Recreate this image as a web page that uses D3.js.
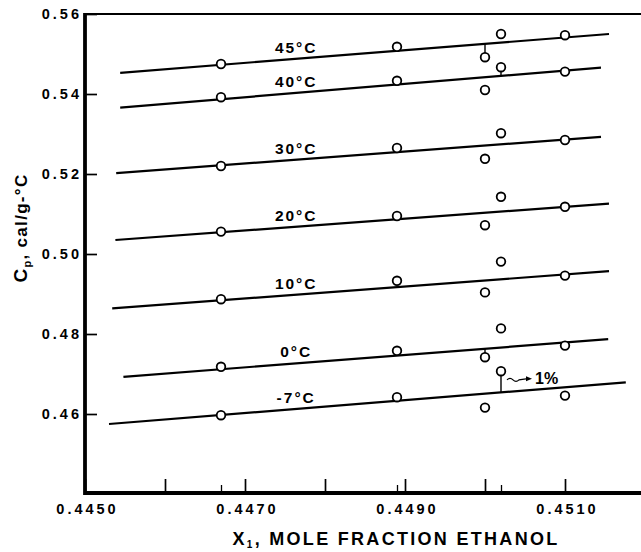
<!DOCTYPE html>
<html><head><meta charset="utf-8">
<script src="https://cdn.jsdelivr.net/npm/d3@7"></script>
<style>body{margin:0;background:#fff;} svg{display:block;} text{font-family:"Liberation Sans",Arial,Helvetica,sans-serif;font-weight:bold;fill:#000;}</style>
</head><body>
<svg id="c" width="641" height="552"></svg>
<script>
// ---- data ----
const xCols = [0.4467, 0.4489, 0.4500, 0.4502, 0.4510];
const temps = ["45°C", "40°C", "30°C", "20°C", "10°C", "0°C", "-7°C"];
const cp45 = [0.5475, 0.5518, 0.5492, 0.5550, 0.5547];
const cp40 = [0.5392, 0.5433, 0.5410, 0.5467, 0.5456];
const cp30 = [0.5220, 0.5265, 0.5238, 0.5302, 0.5285];
const cp20 = [0.5056, 0.5095, 0.5072, 0.5143, 0.5118];
const cp10 = [0.4887, 0.4933, 0.4904, 0.4981, 0.4946];
const cp0  = [0.4718, 0.4758, 0.4742, 0.4814, 0.4771];
const cpm7 = [0.4597, 0.4642, 0.4616, 0.4707, 0.4646];
const seriesValues = [cp45, cp40, cp30, cp20, cp10, cp0, cpm7];
// fitted straight lines: start (x,y) and end (x,y)
const fitStartX = [0.44544, 0.44544, 0.44539, 0.44538, 0.44534, 0.44548, 0.44530];
const fitStartY = [0.5453, 0.5366, 0.5202, 0.5035, 0.4864, 0.4693, 0.4575];
const fitEndX   = [0.45155, 0.45145, 0.45145, 0.45155, 0.45155, 0.45154, 0.45176];
const fitEndY   = [0.5550, 0.5466, 0.5293, 0.5126, 0.4957, 0.4787, 0.4679];
// deviation bars: [series index, column index]
const devBars = [[0, 2], [1, 3], [5, 2], [6, 3]];
const xMajorTicks = [0.4450, 0.4460, 0.4470, 0.4480, 0.4490, 0.4500, 0.4510];
const xTickLabels = ["0.4450", "", "0.4470", "", "0.4490", "", "0.4510"];
const yTicks = [0.46, 0.48, 0.50, 0.52, 0.54, 0.56];
const yTickLabels = ["0.46", "0.48", "0.50", "0.52", "0.54", "0.56"];
const labelX = 0.44764;
const noteText = "1%";

// ---- scales ----
const svg = d3.select("#c");
const x = d3.scaleLinear().domain([0.4450, 0.4510]).range([85, 565]);
const y = d3.scaleLinear().domain([0.46, 0.54]).range([414, 94]);
const xLeft = 0.4450, xRight = x.invert(641), yTop = 0.56, yBot = y.invert(493);

// ---- axes ----
const xAx = svg.append("g").attr("transform", `translate(0,${y(yBot)})`)
  .call(d3.axisBottom(x).tickValues(xMajorTicks).tickSize(-14).tickPadding(11)
    .tickFormat((d, i) => xTickLabels[i]));
xAx.select(".domain").remove();
xAx.selectAll("line").attr("stroke", "#000").attr("stroke-width", 1.7);
xAx.selectAll("text").attr("font-size", 14.5).attr("letter-spacing", 3).attr("dx", 2).style("font-family", "Liberation Sans, Arial, sans-serif").style("font-weight", "bold");

const minorTicks = xCols.filter(v => !xMajorTicks.some(m => Math.abs(m - v) < 1e-6));
const xMin = svg.append("g").attr("transform", `translate(0,${y(yBot)})`)
  .call(d3.axisBottom(x).tickValues(minorTicks).tickSize(-8).tickFormat(""));
xMin.select(".domain").remove();
xMin.selectAll("line").attr("stroke", "#000").attr("stroke-width", 1.3);

const yAx = svg.append("g").attr("transform", `translate(${x(xLeft)},0)`)
  .call(d3.axisLeft(y).tickValues(yTicks).tickSize(-12).tickPadding(5)
    .tickFormat((d, i) => yTickLabels[i]));
yAx.select(".domain").remove();
yAx.selectAll("line").attr("stroke", "#000").attr("stroke-width", 1.7);
yAx.selectAll("text").attr("font-size", 14.5).attr("letter-spacing", 3).attr("dx", 2).style("font-family", "Liberation Sans, Arial, sans-serif").style("font-weight", "bold");

// ---- frame ----
svg.append("line").attr("x1", x(xLeft)).attr("x2", x(xRight)).attr("y1", y(yTop)).attr("y2", y(yTop)).attr("stroke", "#000").attr("stroke-width", 2);
svg.append("line").attr("x1", x(xLeft)).attr("x2", x(xRight)).attr("y1", y(yBot)).attr("y2", y(yBot)).attr("stroke", "#000").attr("stroke-width", 3.8);
svg.append("line").attr("x1", x(xLeft)).attr("x2", x(xLeft)).attr("y1", y(yTop) - 1).attr("y2", y(yBot) + 1.9).attr("stroke", "#000").attr("stroke-width", 3.8);

// ---- fitted lines ----
const fitAt = (i, v) => fitStartY[i] + (v - fitStartX[i]) * (fitEndY[i] - fitStartY[i]) / (fitEndX[i] - fitStartX[i]);
temps.forEach((t, i) => {
  svg.append("line").attr("x1", x(fitStartX[i])).attr("y1", y(fitStartY[i]))
    .attr("x2", x(fitEndX[i])).attr("y2", y(fitEndY[i]))
    .attr("stroke", "#000").attr("stroke-width", 2.2);
  svg.append("text").attr("x", x(labelX)).attr("y", y(fitAt(i, labelX)) - 6)
    .attr("text-anchor", "middle").attr("font-size", 15.5).attr("letter-spacing", 2)
    .text(t);
});

// ---- deviation bars ----
const R = 4.3;
devBars.forEach(([si, ci]) => {
  const v = seriesValues[si][ci], xv = xCols[ci];
  const ly = y(fitAt(si, xv)), py = y(v);
  const edge = py > ly ? py - R : py + R;
  svg.append("line").attr("x1", x(xv)).attr("x2", x(xv)).attr("y1", ly).attr("y2", edge)
    .attr("stroke", "#000").attr("stroke-width", 1.4);
});

// ---- points ----
seriesValues.forEach(vals => {
  svg.selectAll(null).data(vals.map((v, j) => [xCols[j], v])).enter().append("circle")
    .attr("cx", d => x(d[0])).attr("cy", d => y(d[1])).attr("r", R)
    .attr("fill", "#fff").attr("stroke", "#000").attr("stroke-width", 1.8);
});

// ---- 1% note ----
{
  const si = 6, ci = 3;
  const px = x(xCols[ci]) + 6, py = (y(seriesValues[si][ci]) + y(fitAt(si, xCols[ci]))) / 2 - 3;
  svg.append("path").attr("d", `M${px},${py + 1} q3,-3 6,0 t6,0 L${px + 19},${py}`)
    .attr("fill", "none").attr("stroke", "#000").attr("stroke-width", 1.2);
  svg.append("path").attr("d", `M${px + 25},${py} l-6,-2.5 l0,5 z`).attr("fill", "#000");
  svg.append("text").attr("x", px + 28).attr("y", py + 5.5).attr("font-size", 16).text(noteText);
}

// ---- axis titles ----
const xt = svg.append("text").attr("x", 396).attr("y", 545).attr("text-anchor", "middle")
  .attr("font-size", 18).attr("letter-spacing", 2.3);
xt.append("tspan").text("X");
xt.append("tspan").attr("font-size", 10).attr("dy", 3).text("1");
xt.append("tspan").attr("dy", -3).text(", MOLE FRACTION ETHANOL");

const yt = svg.append("text").attr("transform", "translate(27,228) rotate(-90)").attr("text-anchor", "middle")
  .attr("font-size", 17).attr("letter-spacing", 1.3);
yt.append("tspan").attr("font-size", 19).text("C");
yt.append("tspan").attr("font-size", 11).attr("dy", 4).text("p");
yt.append("tspan").attr("dy", -4).text(",  cal/g-°C");
</script>
</body></html>
